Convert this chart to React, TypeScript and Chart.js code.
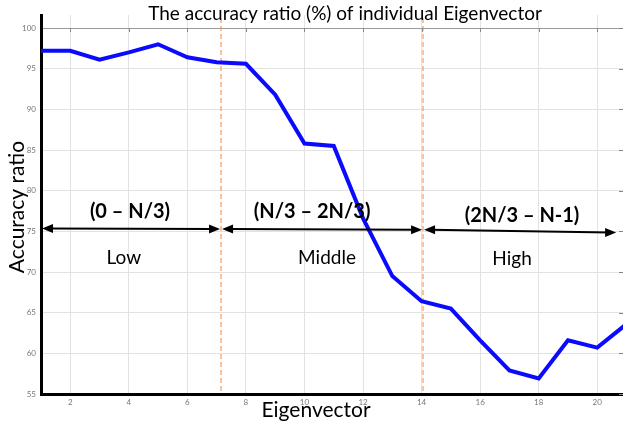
import React, { useEffect, useRef } from "react";
import { Chart, registerables } from "chart.js";

Chart.register(...registerables);

const eigenvectors = [1, 2, 3, 4, 5, 6, 7, 8, 9, 10, 11, 12, 13, 14, 15, 16, 17, 18, 19, 20, 21];
const accuracy = [97.2, 97.2, 96.1, 97.0, 98.0, 96.4, 95.8, 95.6, 91.8, 85.8, 85.5, 76.6, 69.5, 66.4, 65.5, 61.6, 57.9, 56.9, 61.6, 60.7, 63.6];
const xTickValues = [2, 4, 6, 8, 10, 12, 14, 16, 18, 20];
const yTickValues = [55, 60, 65, 70, 75, 80, 85, 90, 95, 100];
const dividerPositions = [7.15, 14.05];
const arrowStartX = [1, 7.15, 14.05];
const arrowEndX = [7.15, 14.05, 20.68];
const arrowStartY = [75.35, 75.3, 75.2];
const arrowEndY = [75.3, 75.2, 74.85];
const rangeLabels = ["(0 – N/3)", "(N/3 – 2N/3)", "(2N/3 – N-1)"];
const rangeLabelX = [4.04, 10.26, 17.43];
const rangeLabelY = [77.4, 77.4, 77.0];
const levelLabels = ["Low", "Middle", "High"];
const levelLabelX = [3.83, 10.77, 17.09];
const levelLabelY = [71.7, 71.7, 71.6];

const chartTitle = "The accuracy ratio (%) of individual Eigenvector";
const xTitle = "Eigenvector";
const yTitle = "Accuracy ratio";

const FONT = "Lato, 'Open Sans', sans-serif";

function drawArrowHead(ctx: CanvasRenderingContext2D, x: number, y: number, dir: number) {
  ctx.beginPath();
  ctx.moveTo(x, y);
  ctx.lineTo(x - dir * 11, y - 4.5);
  ctx.lineTo(x - dir * 11, y + 4.5);
  ctx.closePath();
  ctx.fill();
}

const annotationPlugin = {
  id: "annotations",
  beforeDatasetsDraw(chart: any) {
    const { ctx, chartArea, scales } = chart;
    const xs = scales.x;
    ctx.save();
    ctx.strokeStyle = "#f29a62";
    ctx.lineWidth = 1.2;
    ctx.setLineDash([5, 3]);
    dividerPositions.forEach((v) => {
      const px = Math.round(xs.getPixelForValue(v));
      ctx.beginPath();
      ctx.moveTo(px, chartArea.top + 3);
      ctx.lineTo(px, chartArea.bottom);
      ctx.stroke();
    });
    ctx.setLineDash([]);
    // box-style tick marks at top (100) line and right edge
    ctx.strokeStyle = "#888";
    ctx.lineWidth = 1;
    const y100 = scales.y.getPixelForValue(100);
    xTickValues.forEach((v) => {
      const px = Math.round(xs.getPixelForValue(v)) + 0.5;
      ctx.beginPath();
      ctx.moveTo(px, y100);
      ctx.lineTo(px, y100 + 4);
      ctx.stroke();
    });
    yTickValues.forEach((v) => {
      const py = Math.round(scales.y.getPixelForValue(v)) + 0.5;
      ctx.beginPath();
      ctx.moveTo(chartArea.right - 4, py);
      ctx.lineTo(chartArea.right, py);
      ctx.stroke();
    });
    ctx.restore();
  },
  afterDatasetsDraw(chart: any) {
    const { ctx, scales } = chart;
    const xs = scales.x;
    const ys = scales.y;
    ctx.save();
    ctx.strokeStyle = "#000";
    ctx.fillStyle = "#000";
    ctx.lineWidth = 2;
    for (let i = 0; i < arrowStartX.length; i++) {
      const x1 = xs.getPixelForValue(arrowStartX[i]) + 1;
      const x2 = xs.getPixelForValue(arrowEndX[i]) - 1;
      const y1 = ys.getPixelForValue(arrowStartY[i]);
      const y2 = ys.getPixelForValue(arrowEndY[i]);
      ctx.beginPath();
      ctx.moveTo(x1 + 6, y1);
      ctx.lineTo(x2 - 6, y2);
      ctx.stroke();
      drawArrowHead(ctx, x1, y1, -1);
      drawArrowHead(ctx, x2, y2, 1);
    }
    ctx.textAlign = "center";
    ctx.textBaseline = "middle";
    ctx.font = `bold 20px ${FONT}`;
    rangeLabels.forEach((t, i) => {
      ctx.fillText(t, xs.getPixelForValue(rangeLabelX[i]), ys.getPixelForValue(rangeLabelY[i]));
    });
    ctx.font = `19px ${FONT}`;
    levelLabels.forEach((t, i) => {
      ctx.fillText(t, xs.getPixelForValue(levelLabelX[i]), ys.getPixelForValue(levelLabelY[i]));
    });
    ctx.restore();
  },
  afterDraw(chart: any) {
    const { ctx } = chart;
    ctx.save();
    ctx.fillStyle = "#000";
    ctx.textAlign = "center";
    ctx.textBaseline = "middle";
    ctx.font = `19px ${FONT}`;
    ctx.fillText(chartTitle, 345, 14);
    ctx.font = `21px ${FONT}`;
    ctx.fillText(xTitle, 316, 410);
    ctx.translate(17, 207);
    ctx.rotate(-Math.PI / 2);
    ctx.fillText(yTitle, 0, 0);
    ctx.restore();
  },
};

export default function App() {
  const canvasRef = useRef<HTMLCanvasElement | null>(null);

  useEffect(() => {
    const canvas = canvasRef.current;
    if (!canvas) return;
    const chart = new Chart(canvas, {
      type: "line",
      data: {
        datasets: [
          {
            data: eigenvectors.map((x, i) => ({ x, y: accuracy[i] })),
            borderColor: "#0a0aff",
            borderWidth: 4,
            pointRadius: 0,
            tension: 0,
            fill: false,
          },
        ],
      },
      options: {
        responsive: false,
        animation: false,
        layout: { padding: { top: 15, left: 0, right: 0, bottom: 0 } },
        plugins: {
          legend: { display: false },
          title: { display: false },
          tooltip: { enabled: false },
        },
        scales: {
          x: {
            type: "linear",
            min: 1,
            max: 20.88,
            afterBuildTicks: (scale: any) => {
              scale.ticks = xTickValues.map((v) => ({ value: v }));
            },
            afterFit: (scale: any) => {
              scale.height = 30;
              scale.paddingLeft = 0;
              scale.paddingRight = 0;
            },
            grid: { color: "#e2e2e2", lineWidth: 1, drawTicks: false },
            border: { color: "#000", width: 3 },
            ticks: {
              autoSkip: false,
              maxRotation: 0,
              padding: 4,
              color: "#777",
              font: { family: FONT, size: 8 },
            },
          },
          y: {
            type: "linear",
            min: 55,
            max: 101.6,
            afterBuildTicks: (scale: any) => {
              scale.ticks = yTickValues.map((v) => ({ value: v }));
            },
            afterFit: (scale: any) => {
              scale.width = 41;
              scale.paddingTop = 0;
              scale.paddingBottom = 0;
            },
            grid: {
              color: (c: any) => (c.tick && c.tick.value === 100 ? "#9a9a9a" : "#e2e2e2"),
              lineWidth: 1,
              drawTicks: false,
            },
            border: { color: "#000", width: 3 },
            ticks: {
              autoSkip: false,
              padding: 5,
              color: "#777",
              font: { family: FONT, size: 8 },
            },
          },
        },
      },
      plugins: [annotationPlugin],
    });
    return () => chart.destroy();
  }, []);

  return (
    <div style={{ position: "absolute", left: 0, top: 0, width: 623, height: 424, background: "#fff" }}>
      <canvas ref={canvasRef} width={623} height={424} style={{ display: "block" }} />
    </div>
  );
}
